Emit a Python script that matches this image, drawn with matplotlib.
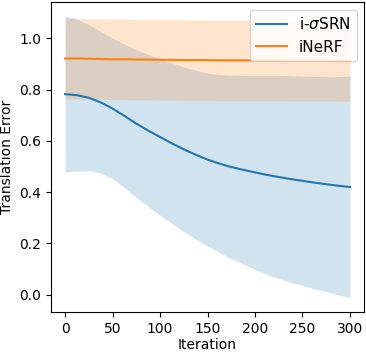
import matplotlib
matplotlib.use("Agg")
import matplotlib.pyplot as plt
import numpy as np

iterations = [0, 12.5, 25, 37.5, 50, 62.5, 75, 87.5, 100, 112.5, 125, 137.5, 150,
              162.5, 175, 187.5, 200, 212.5, 225, 237.5, 250, 262.5, 275, 287.5, 300]

# i-sigmaSRN (mean, std)
srn_mean = [0.782, 0.778, 0.768, 0.750, 0.726, 0.697, 0.667, 0.640, 0.615, 0.590, 0.567, 0.546, 0.527,
            0.511, 0.498, 0.487, 0.477, 0.467, 0.459, 0.451, 0.444, 0.437, 0.431, 0.425, 0.420]
srn_std = [0.304, 0.296, 0.285, 0.276, 0.274, 0.280, 0.288, 0.296, 0.305, 0.313, 0.321, 0.329, 0.337,
           0.347, 0.358, 0.368, 0.378, 0.388, 0.396, 0.403, 0.408, 0.414, 0.419, 0.425, 0.432]

# iNeRF (mean, std)
inerf_mean = [0.921, 0.921, 0.920, 0.919, 0.918, 0.918, 0.917, 0.917, 0.916, 0.916, 0.915, 0.915, 0.915,
              0.914, 0.914, 0.914, 0.913, 0.913, 0.913, 0.912, 0.912, 0.912, 0.912, 0.911, 0.911]
inerf_std = [0.157] * 25

fig = plt.figure(figsize=(3.66, 3.52), dpi=100)
ax = fig.add_axes([0.139, 0.114, 0.856, 0.880])

x = np.array(iterations)
for mean, std, label in [(srn_mean, srn_std, r"i-$\sigma$SRN"), (inerf_mean, inerf_std, "iNeRF")]:
    m = np.array(mean)
    s = np.array(std)
    line, = ax.plot(x, m, label=label)
    ax.fill_between(x, m - s, m + s, color=line.get_color(), alpha=0.2, linewidth=0)

ax.set_xlabel("Iteration", labelpad=2)
ax.set_ylabel("Translation Error")
ax.legend(loc="upper right", fontsize=11)

fig.savefig("out.png", dpi=100)
